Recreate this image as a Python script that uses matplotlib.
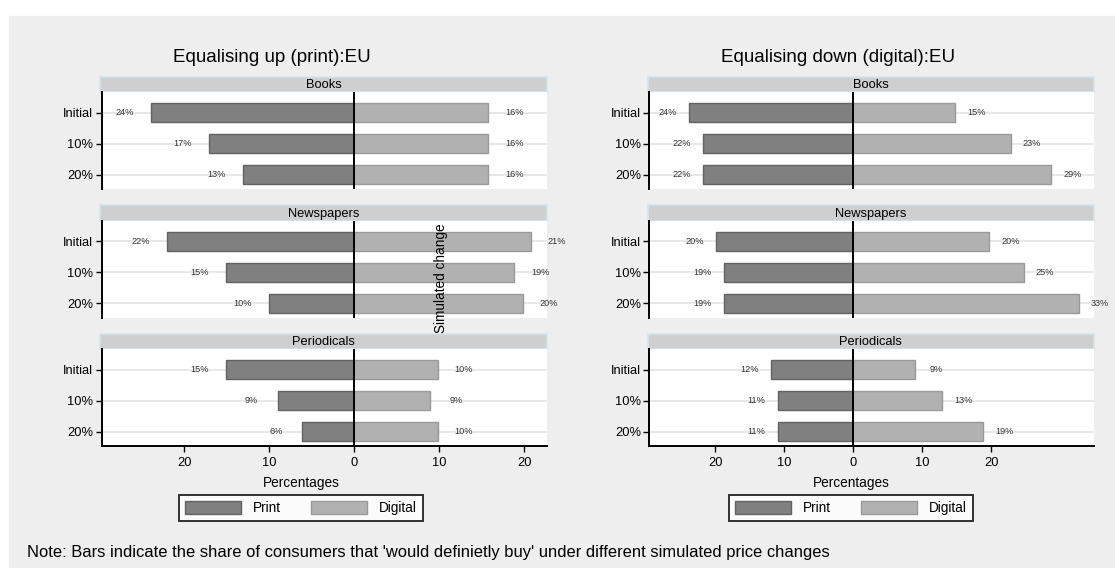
import matplotlib
matplotlib.use("Agg")
import matplotlib.pyplot as plt
from matplotlib.patches import Patch, Rectangle

plt.rcParams["font.family"] = ["Liberation Sans", "DejaVu Sans"]

# ------- data (percent "would definitely buy") -------
categories = ["Books", "Newspapers", "Periodicals"]
scenarios = ["Initial", "10%", "20%"]

# Equalising up (print)
up_print = [[23.9, 17.1, 13.1], [22.0, 15.1, 10.0], [15.1, 9.0, 6.1]]
up_digital = [[15.7, 15.7, 15.7], [20.75, 18.8, 19.8], [9.8, 8.9, 9.8]]

# Equalising down (digital)
down_print = [[23.9, 21.8, 21.8], [19.9, 18.8, 18.8], [11.9, 11.0, 11.0]]
down_digital = [[14.8, 22.8, 28.7], [19.7, 24.7, 32.7], [8.9, 12.9, 18.8]]

titles = ["Equalising up (print):EU", "Equalising down (digital):EU"]
note = ("Note: Bars indicate the share of consumers that 'would definietly buy' "
        "under different simulated price changes")

W, H = 1115, 568
PRINT_C, PRINT_E = "#808080", "#626262"
DIGI_C, DIGI_E = "#b1b1b1", "#9a9a9a"
BG = "#eeeeee"

fig = plt.figure(figsize=(W / 100, H / 100), dpi=100, facecolor="white")
fig.patches.append(Rectangle((9 / W, 0), 1 - 9 / W, 1 - 16 / H,
                             transform=fig.transFigure, color=BG, zorder=-10))


def px_axes(x0, y0, x1, y1):
    return fig.add_axes([x0 / W, 1 - y1 / H, (x1 - x0) / W, (y1 - y0) / H])


panels = [
    dict(prn=up_print, dig=up_digital, x0=101.7, x1=547.3, xlim=(-29.7, 22.7),
         title_x=272, mid_x=301),
    dict(prn=down_print, dig=down_digital, x0=649.3, x1=1094, xlim=(-29.6, 34.9),
         title_x=838, mid_x=851),
]

head_top = [76.7, 205.3, 333.8]
head_h, plot_h = 15.5, 97.0
rows = list(range(len(scenarios)))

for p, title in zip(panels, titles):
    fig.text(p["title_x"] / W, 1 - 58 / H, title, fontsize=13.5,
             ha="center", va="center")
    for i, cat in enumerate(categories):
        ht = head_top[i]
        # facet header strip
        hax = px_axes(p["x0"] - 1.5, ht, p["x1"], ht + head_h)
        hax.set_facecolor("#cfcfcf")
        hax.set_xticks([])
        hax.set_yticks([])
        for s in hax.spines.values():
            s.set_color("#d6e4ec")
            s.set_linewidth(1.2)
        hax.text(0.5, 0.45, cat, transform=hax.transAxes, ha="center",
                 va="center", fontsize=9.3)

        ax = px_axes(p["x0"], ht + head_h, p["x1"], ht + head_h + plot_h)
        ax.set_facecolor("white")
        prn = p["prn"][i]
        dig = p["dig"][i]
        for r in rows:
            ax.axhline(r, color="#e6e6e6", lw=1.3, zorder=0)
        ax.barh(rows, [-v for v in prn], height=0.61, color=PRINT_C,
                edgecolor=PRINT_E, lw=1.0, zorder=2)
        ax.barh(rows, dig, height=0.61, color=DIGI_C, edgecolor=DIGI_E,
                lw=1.0, zorder=2)
        ax.axvline(0, color="black", lw=1.4, zorder=3)
        for r, v in zip(rows, prn):
            ax.text(-v - 3.1, r, f"{v:.0f}%", fontsize=6.6, color="#333333",
                    ha="center", va="center", zorder=4)
        for r, v in zip(rows, dig):
            ax.text(v + 3.1, r, f"{v:.0f}%", fontsize=6.6, color="#333333",
                    ha="center", va="center", zorder=4)

        ax.set_xlim(*p["xlim"])
        ax.set_ylim(2 + 14.5 / 31, -20.5 / 31)
        ax.set_yticks(rows)
        ax.set_yticklabels(scenarios, fontsize=9.3)
        ax.tick_params(axis="y", length=4, width=1.0, pad=2)
        for s in ["top", "right"]:
            ax.spines[s].set_visible(False)
        ax.spines["left"].set_linewidth(1.4)
        if i == len(categories) - 1:
            ax.spines["bottom"].set_linewidth(1.4)
            ax.set_xticks([-20, -10, 0, 10, 20])
            ax.set_xticklabels(["20", "10", "0", "10", "20"], fontsize=9.3)
            ax.tick_params(axis="x", length=4, width=1.0, pad=4)
        else:
            ax.spines["bottom"].set_visible(False)
            ax.set_xticks([])

    fig.text(p["mid_x"] / W, 1 - 483 / H, "Percentages", fontsize=9.8,
             ha="center", va="center")
    handles = [Patch(facecolor=PRINT_C, edgecolor=PRINT_E, lw=1.0, label="Print"),
               Patch(facecolor=DIGI_C, edgecolor=DIGI_E, lw=1.0, label="Digital")]
    leg = fig.legend(handles=handles, loc="center",
                     bbox_to_anchor=(p["mid_x"] / W, 1 - 508 / H), ncol=2,
                     fontsize=9.8, frameon=True, fancybox=False,
                     handlelength=4.1, handleheight=1.05, columnspacing=2.2,
                     borderpad=0.45, handletextpad=0.9, borderaxespad=0)
    leg.get_frame().set_edgecolor("black")
    leg.get_frame().set_linewidth(1.4)
    leg.get_frame().set_facecolor("white")

fig.text(440.7 / W, 1 - 278 / H, "Simulated change", rotation=90,
         fontsize=9.8, ha="center", va="center")
fig.text(27 / W, 1 - 552 / H, note, fontsize=11.9, ha="left", va="center")

fig.savefig("out.png", dpi=100, facecolor="white")
